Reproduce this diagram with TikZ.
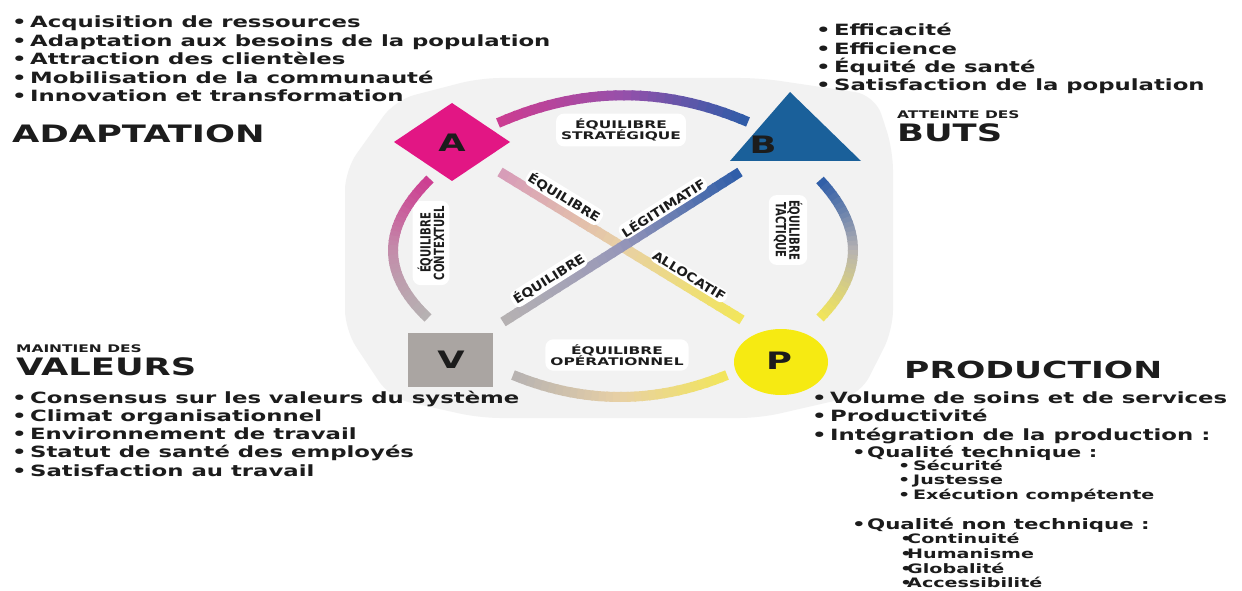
\documentclass[tikz,border=0pt]{standalone}
\usepackage{fontspec}
\setmainfont{DejaVu Sans}[FakeStretch=1.47]
\newfontfamily\condfont{DejaVu Sans}[FakeStretch=0.72]
\newfontfamily\diagfont{DejaVu Sans}[FakeStretch=1.1]
\usetikzlibrary{calc}

\definecolor{magA}{RGB}{226,22,132}
\definecolor{blueB}{RGB}{26,96,154}
\definecolor{greyV}{RGB}{170,165,162}
\definecolor{yelP}{RGB}{246,234,18}
\definecolor{ink}{RGB}{28,28,28}
\definecolor{bgpale}{RGB}{242,242,242}
% shades of the ring and the cross
\definecolor{cMag}{RGB}{205,60,145}
\definecolor{cPurp}{RGB}{150,80,170}
\definecolor{cBlue}{RGB}{45,92,168}
\definecolor{cMauve}{RGB}{195,140,170}
\definecolor{cGrey}{RGB}{182,178,178}
\definecolor{cBlGrey}{RGB}{150,150,185}
\definecolor{cYel}{RGB}{242,230,90}
\definecolor{cPink}{RGB}{215,155,185}
\definecolor{cBeige}{RGB}{232,208,165}

\newcommand{\itm}{\makebox[18pt][l]{•}}
\newcommand{\sitm}{\makebox[15pt][l]{•}}
\newcommand{\titm}{\makebox[7pt][l]{•}}

% quadratic curve #1-#2-#3, shaded #4 -> #5 -> #6
\newcommand{\gradpath}[6]{%
  \foreach \k in {0,...,29}{%
    \pgfmathsetmacro{\ta}{\k/30}%
    \pgfmathsetmacro{\tb}{min(1,(\k+1.25)/30)}%
    \pgfmathsetmacro{\tc}{(\k+0.5)/30}%
    \pgfmathsetmacro{\pa}{min(100,200*\tc)}%
    \pgfmathsetmacro{\pb}{max(0,200*\tc-100)}%
    \colorlet{tmpcol}{#5!\pa!#4}%
    \colorlet{segcol}{#6!\pb!tmpcol}%
    \draw[segcol, line width=10pt]
      ($($(#1)!\ta!(#2)$)!\ta!($(#2)!\ta!(#3)$)$) --
      ($($(#1)!\tb!(#2)$)!\tb!($(#2)!\tb!(#3)$)$);
  }%
}

\begin{document}
\begin{tikzpicture}[x=1pt,y=1pt,
    bigtitle/.style={anchor=base west, inner sep=0pt, text=ink,
      font=\bfseries\fontsize{24}{26}\selectfont},
    smalltitle/.style={anchor=base west, inner sep=0pt, text=ink,
      font=\bfseries\fontsize{10.5}{12}\selectfont},
    listline/.style={anchor=base west, inner sep=0pt, text=ink,
      font=\bfseries\fontsize{15.5}{18}\selectfont},
    subline/.style={listline, font=\bfseries\fontsize{14.5}{16}\selectfont},
    subsubline/.style={listline, font=\bfseries\fontsize{13}{14}\selectfont},
    letter/.style={text=ink, inner sep=0pt,
      font=\bfseries\fontsize{24}{24}\selectfont},
    eqlabel/.style={fill=white, rounded corners=8pt, inner sep=5pt, text=ink,
      align=center, font=\bfseries\fontsize{10.5}{11.5}\selectfont},
    vlabel/.style={eqlabel, font=\condfont\bfseries\fontsize{14}{12}\selectfont},
    dlabel/.style={fill=white, rounded corners=6pt, inner sep=2pt, text=ink,
      sloped, above=3pt, font=\diagfont\bfseries\fontsize{12.5}{13}\selectfont}]
\useasboundingbox (0,0) rectangle (1242,590);
\fill[white] (0,0) rectangle (1242,590);

% pale backdrop of the model
\fill[bgpale, rounded corners=20pt] (345,420) -- (395,490) -- (480,512) -- (760,512)
  -- (875,495) -- (893,440) -- (893,260) -- (860,195) -- (760,172) -- (480,172)
  -- (390,192) -- (345,260) -- cycle;

% the four functions, lists
\foreach \t [count=\i] in {Acquisition de ressources,
    Adaptation aux besoins de la population, Attraction des clientèles,
    Mobilisation de la communauté, Innovation et transformation}
  \node[listline] (adl\i) at (12,580.5-18.5*\i) {\itm\t};
\node[bigtitle] (adapt) at (12,447) {ADAPTATION};

\foreach \t [count=\i] in {Efficacité, Efficience, Équité de santé,
    Satisfaction de la population}
  \node[listline] (bul\i) at (816,572.3-18.3*\i) {\itm\t};
\node[smalltitle] (atteinte) at (897,471) {ATTEINTE DES};
\node[bigtitle] (buts) at (897,448) {BUTS};

\node[smalltitle] (maintien) at (16,238) {MAINTIEN DES};
\node[bigtitle] (valeurs) at (16,215) {VALEURS};
\foreach \t [count=\i] in {Consensus sur les valeurs du système,
    Climat organisationnel, Environnement de travail,
    Statut de santé des employés, Satisfaction au travail}
  \node[listline] (vll\i) at (12,205.3-18.3*\i) {\itm\t};

\node[bigtitle, font=\bfseries\fontsize{23.5}{26}\selectfont] (prod) at (904,212) {PRODUCTION};
\foreach \t [count=\i] in {Volume de soins et de services, Productivité,
    Intégration de la production :}
  \node[listline] (prl\i) at (812,205.5-18.5*\i) {\itm\t};
\node[subline] (qtech) at (852,133) {\sitm Qualité technique :};
\foreach \t [count=\i] in {Sécurité, Justesse, Exécution compétente}
  \node[subsubline] (qtl\i) at (898,134.5-14.5*\i) {\sitm\t};
\node[subline] (qnon) at (852,61) {\sitm Qualité non technique :};
\foreach \t [count=\i] in {Continuité, Humanisme, Globalité, Accessibilité}
  \node[subsubline] (qnl\i) at (900,61-14.7*\i) {\titm\t};

% balance labels
\node[eqlabel] (strat) at (621,460) {ÉQUILIBRE\\STRATÉGIQUE};
\node[eqlabel] (oper) at (617,235) {ÉQUILIBRE\\OPÉRATIONNEL};
\node[vlabel, rotate=90] (context) at (431,347) {ÉQUILIBRE\\CONTEXTUEL};
\node[vlabel, rotate=-90] (tact) at (788,360) {ÉQUILIBRE\\TACTIQUE};

% ring ends and bends
\coordinate (topS) at (498,467);  \coordinate (topC) at (623,522);
\coordinate (topE) at (748,468);
\coordinate (lftS) at (430,411);  \coordinate (lftC) at (357,339);
\coordinate (lftE) at (428,272);
\coordinate (rgtS) at (820,410);  \coordinate (rgtC) at (886,339);
\coordinate (rgtE) at (820,272);
\coordinate (botS) at (513,215);  \coordinate (botC) at (620,171);
\coordinate (botE) at (727,215);
\coordinate (apS) at (500,418);  \coordinate (apE) at (742,270);
\coordinate (apC) at ($(apS)!0.5!(apE)$);
\coordinate (bvS) at (740,418);  \coordinate (bvE) at (503,268);
\coordinate (bvC) at ($(bvS)!0.5!(bvE)$);

\gradpath{topS}{topC}{topE}{cMag}{cPurp}{cBlue}
\gradpath{lftS}{lftC}{lftE}{cMag}{cMauve}{cGrey}
\gradpath{rgtS}{rgtC}{rgtE}{cBlue}{cGrey}{cYel}
\gradpath{botS}{botC}{botE}{cGrey}{cBeige}{cYel}
\gradpath{apS}{apC}{apE}{cPink}{cBeige}{cYel}
\gradpath{bvS}{bvC}{bvE}{cBlue}{cBlGrey}{cGrey}

% labels along the cross
\path (apS) -- (apE)
  node[dlabel, pos=0.24] (eqa) {ÉQUILIBRE}
  node[dlabel, pos=0.76] (alloc) {ALLOCATIF};
\path (bvE) -- (bvS)
  node[dlabel, pos=0.22] (eqv) {ÉQUILIBRE}
  node[dlabel, pos=0.70] (legit) {LÉGITIMATIF};

% the four poles
\fill[magA] (394,448) -- (452,487) -- (510,448) -- (452,409) -- cycle;
\node[letter] (A) at (452,447) {A};
\fill[blueB] (790,498) -- (861,429) -- (730,429) -- cycle;
\node[letter] (B) at (763,445) {B};
\fill[greyV] (408,257) rectangle (493,203);
\node[letter] (V) at (451,230) {V};
\fill[yelP] (781,228) ellipse [x radius=47, y radius=33];
\node[letter] (P) at (779,229) {P};
\end{tikzpicture}
\end{document}
